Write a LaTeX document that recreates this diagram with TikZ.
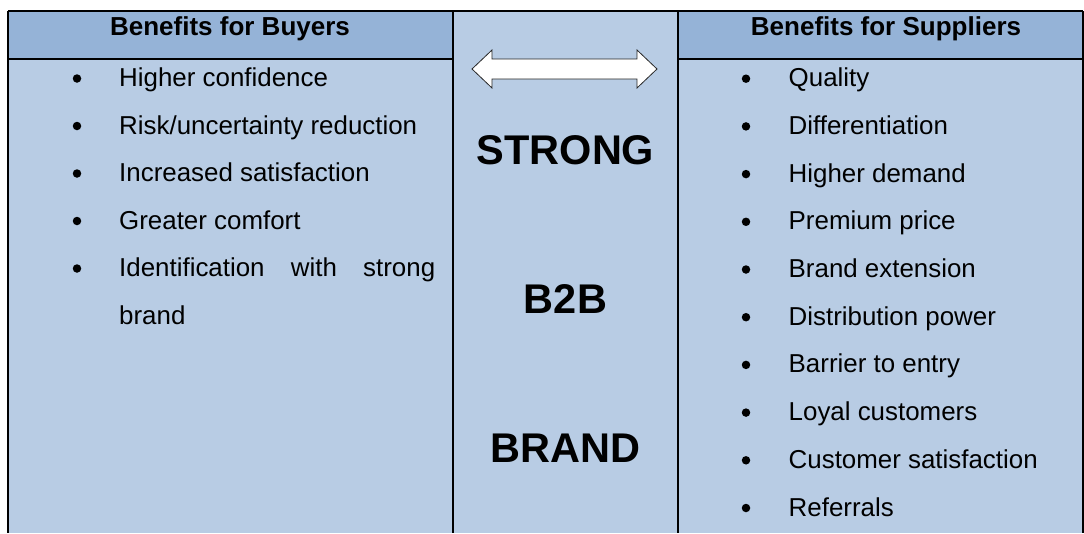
\documentclass[tikz,border=0pt]{standalone}
\usepackage{fontspec}
\setmainfont{Liberation Sans}
\definecolor{hdr}{HTML}{95B3D7}
\definecolor{body}{HTML}{B8CCE4}
\begin{document}
\begin{tikzpicture}[x=1pt,y=-1pt,
  item/.style={anchor=base west,inner sep=0pt,font=\fontsize{25.9}{30}\selectfont},
  hdrtext/.style={anchor=base,inner sep=0pt,font=\fontsize{26}{30}\selectfont\bfseries},
  bigword/.style={anchor=base,inner sep=0pt,font=\fontsize{41.5}{48}\selectfont\bfseries},
  grid/.style={line width=1.4pt,black},
  bul/.style={circle,fill=black,inner sep=0pt,minimum size=8.5pt}]
\useasboundingbox (0,0) rectangle (1084,533);
% backgrounds
\fill[body] (8,11) rectangle (1083,533);
\fill[hdr] (8,11) rectangle (453,59);
\fill[hdr] (678,11) rectangle (1083,59);
% grid lines
\draw[grid] (8,11) -- (1083,11);
\draw[grid] (8,59) -- (453,59);
\draw[grid] (678,59) -- (1083,59);
\draw[grid] (8,11) -- (8,533);
\draw[grid] (453,11) -- (453,533);
\draw[grid] (678,11) -- (678,533);
\draw[grid] (1083,11) -- (1083,533);
% headers
\node[hdrtext] (hb) at (230,35) {Benefits for Buyers};
\node[hdrtext] (hs) at (886,35) {Benefits for Suppliers};
% double arrow
\draw[fill=white,draw=black!85,line width=0.8pt,line join=miter]
  (472,69) -- (492,50) -- (492,59) -- (637,59) -- (637,50) -- (657,69)
  -- (637,88) -- (637,79) -- (492,79) -- (492,88) -- cycle;
% middle words
\node[bigword] (w1) at (565.5,164) {STRONG};
\node[bigword] (w2) at (565.5,313) {B2B};
\node[bigword] (w3) at (565.5,462) {BRAND};
% left items
\foreach \t [count=\i from 0] in {Higher confidence,Risk/uncertainty reduction,Increased satisfaction,Greater comfort} {
  \node[bul] (lb\i) at (77,{86.5+47.5*\i-8}) {};
  \node[item] (lt\i) at (119,{86.5+47.5*\i}) {\t};
}
\node[bul] (lb4) at (77,{86.5+47.5*4-8}) {};
\node[item] (lt4) at (119,{86.5+47.5*4}) {\makebox[316pt][s]{Identification with strong}};
\node[item] (lt5) at (119,{86.5+47.5*5}) {brand};
% right items
\foreach \t [count=\i from 0] in {Quality,Differentiation,Higher demand,Premium price,Brand extension,Distribution power,Barrier to entry,Loyal customers,Customer satisfaction,Referrals} {
  \node[bul] (rb\i) at (746,{86.7+47.7*\i-8}) {};
  \node[item] (rt\i) at (788.5,{86.7+47.7*\i}) {\t};
}
\end{tikzpicture}
\end{document}
